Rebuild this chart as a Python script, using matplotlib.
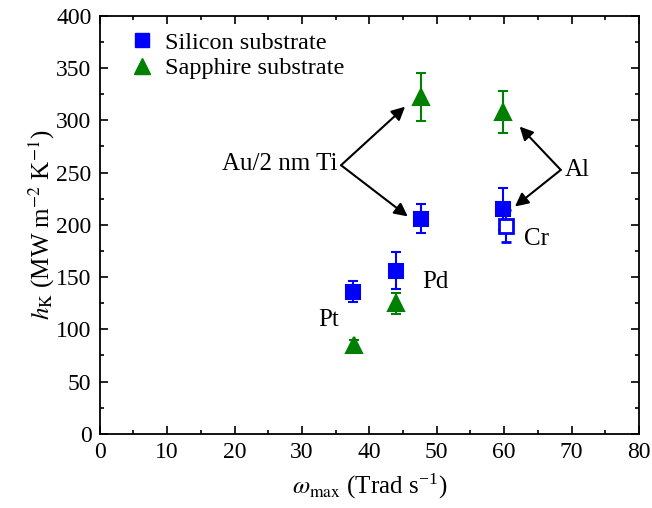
import matplotlib
matplotlib.use("Agg")
import matplotlib.pyplot as plt
from matplotlib.lines import Line2D

plt.rcParams['font.family'] = ['Liberation Serif', 'DejaVu Serif']
plt.rcParams['mathtext.fontset'] = 'stix'
plt.rcParams['font.size'] = 17

# ---- data ----
si_x = [37.5, 43.9, 47.7, 59.9]
si_y = [136, 156, 206, 215]
si_err = [10, 17.5, 14, 20]

cr_x = [60.2]
cr_y = [199]
cr_err = [15]

sa_x = [37.7, 44.0, 47.7, 59.9]
sa_y = [85, 125, 322, 308]
sa_err = [5, 10, 23, 20]

blue = '#0000ff'
green = '#008000'

fig = plt.figure(figsize=(6.52, 5.08), dpi=100)
ax = fig.add_axes([0.153, 0.146, 0.827, 0.823])

eb_kw = dict(ls='none', capsize=3.5, elinewidth=1.5, capthick=1.5)
ax.errorbar(si_x, si_y, yerr=si_err, marker='s', ms=10, color=blue,
            mec=blue, mew=1.5, **eb_kw)
ax.errorbar(cr_x, cr_y, yerr=cr_err, marker='s', ms=9.5, color=blue,
            mfc='white', mec=blue, mew=2, **eb_kw)
ax.errorbar(sa_x, sa_y, yerr=sa_err, marker='^', ms=12, color=green,
            mec=green, mew=1.5, **eb_kw)

# labels and arrows
ax.text(34, 109, 'Pt', ha='center', va='center', fontsize=18)
ax.text(49.8, 145, 'Pd', ha='center', va='center', fontsize=18)
ax.text(64.8, 186, 'Cr', ha='center', va='center', fontsize=18)

arr = dict(arrowstyle='-|>', color='black', lw=1.5, mutation_scale=20,
           shrinkA=0, shrinkB=0)
ax.text(35.3, 258, 'Au/2 nm Ti', ha='right', va='center', fontsize=18)
ax.annotate('', xy=(45.3, 313), xytext=(35.8, 257), arrowprops=arr)
ax.annotate('', xy=(45.7, 208), xytext=(35.8, 257), arrowprops=arr)

ax.text(69.0, 252, 'Al', ha='left', va='center', fontsize=18)
ax.annotate('', xy=(62.3, 294), xytext=(68.4, 252.5), arrowprops=arr)
ax.annotate('', xy=(61.6, 217.5), xytext=(68.4, 252.5), arrowprops=arr)

ax.set_xlim(0, 80)
ax.set_ylim(0, 400)
ax.set_xticks(range(0, 81, 10))
ax.set_yticks(range(0, 401, 50))
ax.set_xticks(range(5, 80, 10), minor=True)
ax.set_yticks(range(25, 400, 50), minor=True)
ax.tick_params(which='both', direction='in', top=True, right=True,
               labelsize=17, width=1.2)
ax.tick_params(which='major', length=6, pad=6)
ax.tick_params(which='minor', length=3)
for sp in ax.spines.values():
    sp.set_linewidth(1.3)

ax.set_xlabel(r'$\omega_{\mathrm{max}}$ (Trad s$^{\mathregular{-1}}$)', fontsize=18, labelpad=6)
ax.set_ylabel(r'$h_{\mathrm{K}}$ (MW m$^{-2}$ K$^{-1}$)', fontsize=18, labelpad=-1)

handles = [Line2D([], [], ls='none', marker='s', ms=10, color=blue),
           Line2D([], [], ls='none', marker='^', ms=12, color=green)]
ax.legend(handles, ['Silicon substrate', 'Sapphire substrate'], loc='upper left',
          bbox_to_anchor=(0.037, 0.985), borderaxespad=0, frameon=False,
          fontsize=17.5, handletextpad=0.45, labelspacing=0.15, handlelength=1.0)

fig.savefig('out.png', dpi=100)
